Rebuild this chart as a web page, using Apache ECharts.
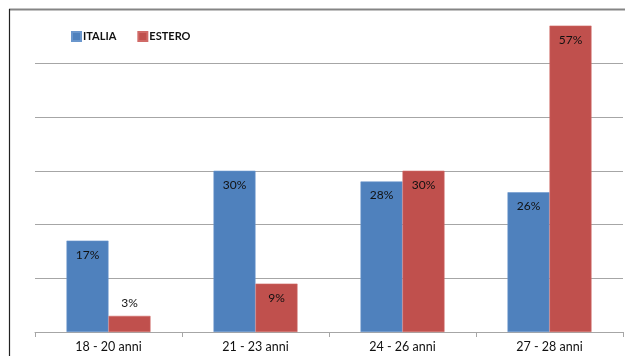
<!DOCTYPE html>
<html>
<head>
<meta charset="utf-8">
<script src="https://cdn.jsdelivr.net/npm/echarts@6/dist/echarts.min.js"></script>
<style>
  html, body { margin: 0; padding: 0; background: #fff; }
  #chart { width: 625px; height: 356px; }
</style>
</head>
<body>
<div id="chart"></div>
<script>
// Age groups and share of graduates by work location (percent)
const categories = ['18 - 20 anni', '21 - 23 anni', '24 - 26 anni', '27 - 28 anni'];
const italia = [17, 30, 28, 26];
const estero = [3, 9, 30, 57];

const chart = echarts.init(document.getElementById('chart'), null, { renderer: 'canvas' });
const font = 'Lato, "Open Sans", sans-serif';

const labelStyle = {
  show: true,
  position: 'insideTop',
  distance: 8,
  color: '#111',
  fontFamily: font,
  fontSize: 12,
  formatter: p => p.value + '%'
};

// Bars too short to hold their label get it placed above instead
function withLabels(values) {
  return values.map(v => v < 5
    ? { value: v, label: { position: 'top', distance: 7 } }
    : v);
}

chart.setOption({
  animation: false,
  backgroundColor: '#fff',
  graphic: [
    { type: 'line', shape: { x1: 9, y1: 9.5, x2: 625, y2: 9.5 }, style: { stroke: '#858585', lineWidth: 2 }, z: 100 },
    { type: 'line', shape: { x1: 9.5, y1: 9, x2: 9.5, y2: 356 }, style: { stroke: '#222', lineWidth: 1.2 }, z: 100 }
  ],
  legend: {
    left: 66,
    top: 26,
    itemWidth: 9,
    itemHeight: 9,
    itemGap: 21,
    icon: 'rect',
    textStyle: { fontFamily: font, fontSize: 11, fontWeight: 'bold', color: '#111', padding: [0, 0, 0, -3] },
    data: ['ITALIA', 'ESTERO']
  },
  grid: { left: 35, right: 2, top: 9.5, bottom: 24, containLabel: false },
  xAxis: {
    type: 'category',
    data: categories,
    axisLine: { lineStyle: { color: '#a6a6a6', width: 1 } },
    axisTick: { show: true, length: 5, lineStyle: { color: '#a6a6a6' } },
    axisLabel: { color: '#111', fontFamily: font, fontSize: 12.5, margin: 8 }
  },
  yAxis: {
    type: 'value',
    min: 0,
    max: 60,
    interval: 10,
    axisLine: { show: false },
    axisTick: { show: false },
    axisLabel: { show: false },
    splitLine: { lineStyle: { color: '#a6a6a6', width: 1 } }
  },
  series: [
    {
      name: 'ITALIA',
      type: 'bar',
      data: withLabels(italia),
      barWidth: 42,
      barGap: '0%',
      itemStyle: { color: '#4F81BD', borderColor: '#6a96cc', borderWidth: 0.6 },
      label: labelStyle
    },
    {
      name: 'ESTERO',
      type: 'bar',
      data: withLabels(estero),
      barWidth: 42,
      itemStyle: { color: '#C0504D', borderColor: '#d06a67', borderWidth: 0.6 },
      label: labelStyle
    }
  ]
});
</script>
</body>
</html>
